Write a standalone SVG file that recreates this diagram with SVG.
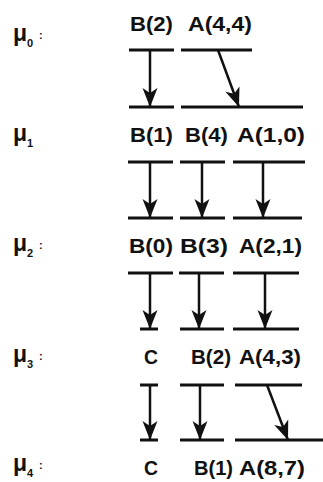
<svg xmlns="http://www.w3.org/2000/svg" width="323" height="482" viewBox="0 0 323 482">
<defs>
<style>
.t{font-family:"Liberation Sans",Arial,sans-serif;font-weight:bold;font-size:21px;fill:#111}
.m{font-family:"Liberation Sans",Arial,sans-serif;font-weight:bold;font-size:23px;fill:#111}
.s{font-family:"Liberation Sans",Arial,sans-serif;font-weight:bold;font-size:11px;fill:#111}
.bar{stroke:#111;stroke-width:3;fill:none}
.arr{stroke:#111;stroke-width:2.5;fill:none;marker-end:url(#ah)}
</style>
<marker id="ah" markerUnits="userSpaceOnUse" viewBox="-20 -9 22 18" refX="0" refY="0" markerWidth="22" markerHeight="18" orient="auto">
<path d="M0,0 L-19,-7.5 L-14,0 L-19,7.5 Z" fill="#111"/>
</marker>
</defs>
<rect width="323" height="482" fill="#fff"/>
<g id="labels">
<g id="mu0"><text class="m" x="13" y="41">μ</text><text class="s" x="27" y="47">0</text><text class="s" x="39" y="39">:</text></g>
<g id="mu1"><text class="m" x="13" y="141">μ</text><text class="s" x="27" y="147">1</text></g>
<g id="mu2"><text class="m" x="13" y="251">μ</text><text class="s" x="27" y="257">2</text><text class="s" x="39" y="249">:</text></g>
<g id="mu3"><text class="m" x="13" y="362">μ</text><text class="s" x="27" y="368">3</text><text class="s" x="39" y="360">:</text></g>
<g id="mu4"><text class="m" x="13" y="471">μ</text><text class="s" x="27" y="477">4</text><text class="s" x="39" y="469">:</text></g>
</g>
<g id="row0">
<text class="t" x="130" y="31" textLength="43" lengthAdjust="spacingAndGlyphs">B(2)</text>
<text class="t" x="188" y="31" textLength="64" lengthAdjust="spacingAndGlyphs">A(4,4)</text>
</g>
<g id="row1">
<text class="t" x="130" y="142" textLength="43" lengthAdjust="spacingAndGlyphs">B(1)</text>
<text class="t" x="185" y="142" textLength="43" lengthAdjust="spacingAndGlyphs">B(4)</text>
<text class="t" x="237" y="142" textLength="68" lengthAdjust="spacingAndGlyphs">A(1,0)</text>
</g>
<g id="row2">
<text class="t" x="129" y="253" textLength="44" lengthAdjust="spacingAndGlyphs">B(0)</text>
<text class="t" x="180" y="253" textLength="48" lengthAdjust="spacingAndGlyphs">B(3)</text>
<text class="t" x="239" y="253" textLength="63" lengthAdjust="spacingAndGlyphs">A(2,1)</text>
</g>
<g id="row3">
<text class="t" x="144" y="364" textLength="14" lengthAdjust="spacingAndGlyphs">C</text>
<text class="t" x="191" y="364" textLength="40" lengthAdjust="spacingAndGlyphs">B(2)</text>
<text class="t" x="239" y="364" textLength="62" lengthAdjust="spacingAndGlyphs">A(4,3)</text>
</g>
<g id="row4">
<text class="t" x="144" y="475" textLength="14" lengthAdjust="spacingAndGlyphs">C</text>
<text class="t" x="194" y="475" textLength="39" lengthAdjust="spacingAndGlyphs">B(1)</text>
<text class="t" x="239" y="475" textLength="66" lengthAdjust="spacingAndGlyphs">A(8,7)</text>
</g>
<g id="bars">
<path class="bar" d="M129,50H174M181,50H252M129,107H174M181,107H303"/>
<path class="bar" d="M128,162H173M180,162H225M233,162H305M128,218H173M180,218H225M233,218H302"/>
<path class="bar" d="M128,273H173M179,273H224M233,273H299M140,329H158M180,329H224M233,329H299"/>
<path class="bar" d="M140,385H158M180,385H224M235,385H302M140,440H158M180,440H224M235,440H323"/>
</g>
<g id="connectors">
<line class="arr" x1="150" y1="50" x2="150" y2="107"/>
<line class="arr" x1="218" y1="50" x2="239" y2="107"/>
<line class="arr" x1="150" y1="162" x2="150" y2="218"/>
<line class="arr" x1="202" y1="162" x2="202" y2="218"/>
<line class="arr" x1="263" y1="162" x2="263" y2="218"/>
<line class="arr" x1="150" y1="273" x2="150" y2="329"/>
<line class="arr" x1="199" y1="273" x2="199" y2="329"/>
<line class="arr" x1="265" y1="273" x2="265" y2="329"/>
<line class="arr" x1="150" y1="385" x2="150" y2="440"/>
<line class="arr" x1="200" y1="385" x2="200" y2="440"/>
<line class="arr" x1="267" y1="385" x2="288" y2="440"/>
</g>
</svg>
